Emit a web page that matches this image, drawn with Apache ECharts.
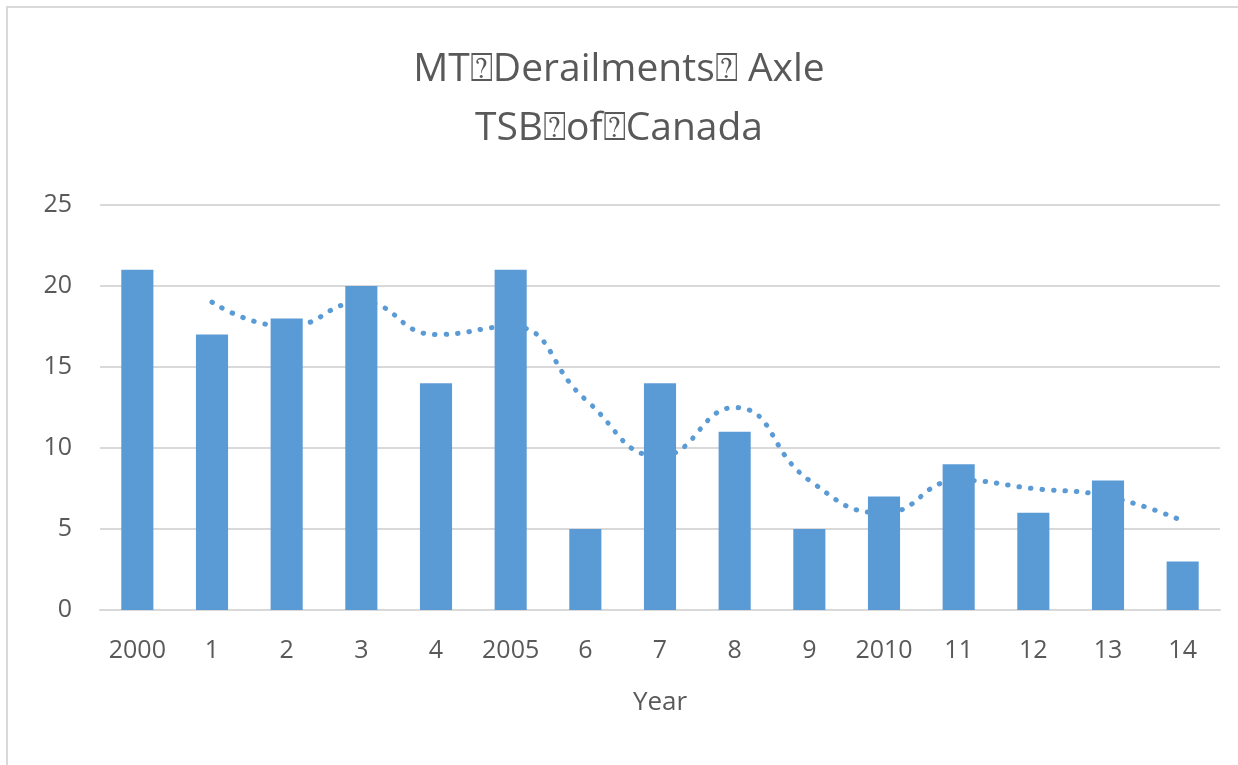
<!DOCTYPE html>
<html>
<head>
<meta charset="utf-8">
<script src="https://cdn.jsdelivr.net/npm/echarts@6/dist/echarts.min.js"></script>
<style>
  html, body { margin: 0; padding: 0; background: #fff; }
  #chart { width: 1238px; height: 765px; }
</style>
</head>
<body>
<div id="chart"></div>
<script>
// 年份标签（x轴）
const years = ['2000', '1', '2', '3', '4', '2005', '6', '7', '8', '9', '2010', '11', '12', '13', '14']
// 每年脱轨次数
const derailments = [21, 17, 18, 20, 14, 21, 5, 14, 11, 5, 7, 9, 6, 8, 3]
// 趋势线（2期移动平均，从图上读取）
const trend = [null, 19, 17.5, 19, 17, 17.5, 13, 9.5, 12.5, 8, 6, 8, 7.5, 7, 5.5]
const yTicks = [0, 5, 10, 15, 20, 25]

const chart = echarts.init(document.getElementById('chart'))
const textColor = '#595959'
const font = '"Open Sans", "DejaVu Sans", sans-serif'

let option = {
    backgroundColor: '#fff',
    animation: false,
    title: {
        text: 'MT\u2370Derailments\u2370 Axle\nTSB\u2370of\u2370Canada',
        left: 'center',
        top: 35,
        padding: [5, 5, 5, 25],
        textStyle: {
            color: textColor,
            fontFamily: font,
            fontSize: 39,
            fontWeight: 'normal',
            lineHeight: 59
        }
    },
    graphic: [{
        type: 'rect',
        shape: { x: 7, y: 7, width: 1240, height: 770 },
        style: { fill: 'none', stroke: '#d9d9d9', lineWidth: 2 },
        silent: true
    }],
    grid: {
        left: 100,
        right: 18,
        top: 205,
        bottom: 155
    },
    xAxis: {
        type: 'category',
        data: years,
        name: 'Year',
        nameLocation: 'middle',
        nameGap: 80,
        nameTextStyle: { color: textColor, fontFamily: font, fontSize: 26 },
        axisLine: { show: true, lineStyle: { color: '#d9d9d9', width: 2 } },
        axisTick: { show: false },
        axisLabel: {
            interval: 0,
            margin: 28,
            color: textColor,
            fontFamily: font,
            fontSize: 25
        }
    },
    yAxis: {
        type: 'value',
        min: yTicks[0],
        max: yTicks[yTicks.length - 1],
        interval: 5,
        axisLine: { show: false },
        axisTick: { show: false },
        axisLabel: {
            margin: 28,
            color: textColor,
            fontFamily: font,
            fontSize: 25
        },
        splitLine: { lineStyle: { color: '#d9d9d9', width: 2 } }
    },
    series: [
        {
            name: 'Derailments',
            type: 'bar',
            data: derailments,
            barWidth: '43%',
            itemStyle: { color: '#5b9bd5' }
        },
        {
            name: 'Trend',
            type: 'line',
            data: trend,
            smooth: 0.5,
            showSymbol: false,
            connectNulls: false,
            lineStyle: {
                color: '#5b9bd5',
                width: 5,
                type: [0.5, 11],
                cap: 'round'
            }
        }
    ]
}
chart.setOption(option, true)
</script>
</body>
</html>
